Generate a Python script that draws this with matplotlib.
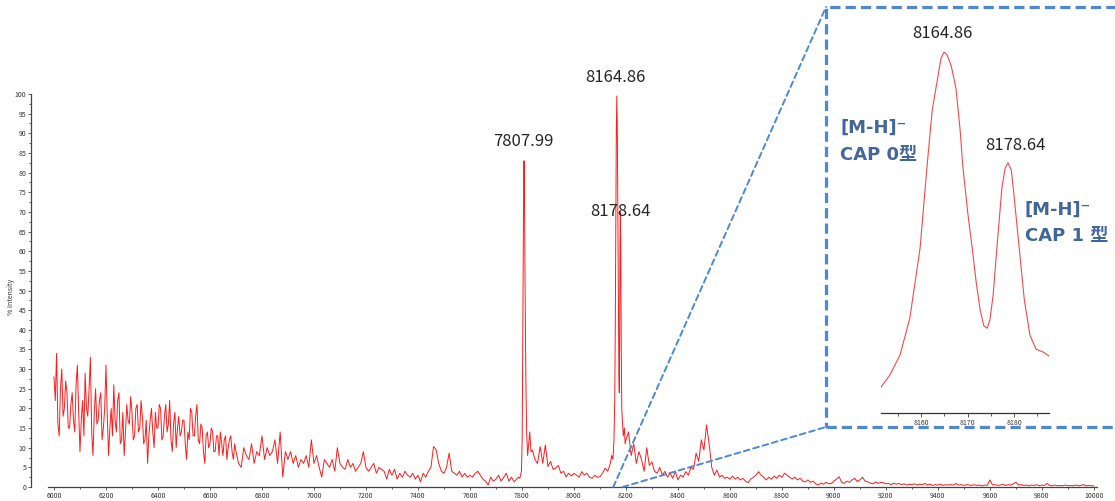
import numpy as np
import matplotlib.pyplot as plt
from matplotlib.patches import Rectangle, ConnectionPatch
from matplotlib.ticker import MultipleLocator

plt.rcParams['font.family'] = ['Noto Sans CJK SC', 'DejaVu Sans']

# m/z 6000-6695, 5 Da steps (% intensity)
int_a1 = [
    28, 22, 34, 16, 13, 25, 30, 18, 20, 27, 24, 15, 15, 21, 24, 17, 14, 26, 31, 19,
    9, 17, 22, 13, 29, 20, 18, 25, 33, 14, 8, 19, 25, 16, 17, 22, 24, 12, 15, 20,
    31, 18, 8, 15, 20, 13, 26, 17, 14, 22, 24, 11, 12, 19, 8, 14, 21, 17, 16, 23,
    19, 12, 13, 20, 21, 14, 15, 22, 18, 11, 12, 17, 6, 13, 17, 20, 14, 10, 19, 15,
    15, 21, 20, 12, 13, 18, 21, 14, 16, 22, 12, 9, 16, 19, 10, 15, 18, 13, 14, 17,
    17, 11, 7, 14, 12, 20, 19, 13, 13, 18, 21, 12, 11, 16, 15, 9, 6, 13, 14, 10,
    11, 15, 14, 9, 9, 13, 13, 8, 14, 11, 8, 12, 13, 7, 10, 12, 13, 9, 7, 11,
]

# m/z 6700-7780, 10 Da steps
int_a2 = [
    9, 6, 5, 10, 8, 7, 11, 6, 9, 8,
    13, 7, 10, 8, 9, 12, 6, 14, 2.5, 9,
    7, 9, 6, 8, 5, 7, 6, 8, 5, 12,
    6, 8, 5, 2.5, 7, 6, 5, 7, 4, 10,
    6, 5, 4.5, 7, 5, 6, 4, 5, 6, 9,
    5, 4, 5, 6, 3.5, 5, 4.5, 4, 2, 4.5,
    3, 4.5, 2, 3.5, 2.5, 4, 3, 2.5, 3.5, 2,
    3, 1.3, 3.5, 2.5, 4, 5, 10.3, 9.5, 6, 4,
    3.5, 5, 8.6, 4, 3.5, 3, 4, 2.5, 3.5, 2.5,
    3, 2.5, 3.5, 4, 3, 2, 1.5, 0.5, 2.5, 1.5,
    2, 3, 1.5, 2.5, 3.5, 1.5, 2.5, 1.3, 2,
]

# peak at 7807.99
mz_p1 = [7786, 7792, 7798, 7801, 7804, 7806, 7808, 7810, 7812, 7815, 7818, 7822, 7826, 7830, 7835]
int_p1 = [2.5, 2.2, 4, 12, 45, 70, 83, 72, 52, 28, 14, 8, 11, 14, 9]

# m/z 7840-8140, 10 Da steps
int_b = [
    9.4, 7, 6, 10.3, 6, 10.7, 5.2, 6.5, 4.5, 4.8,
    5.5, 3.5, 4, 2.6, 3.5, 2.8, 3.5, 3, 2.5, 3.9,
    3, 3.5, 2.5, 2.2, 3, 2.5, 2.6, 3.5, 4.8, 4, 6,
]

# doublet 8164.86 / 8178.64
mz_p2 = [8145, 8150, 8154, 8157, 8159, 8161, 8163, 8165, 8167, 8169, 8171, 8173,
         8174.5, 8176, 8177.5, 8178.6, 8180, 8182, 8184, 8187, 8190, 8194, 8197]
int_p2 = [8, 7, 12, 22, 40, 66, 90, 99.5, 90, 68, 45, 28,
          24, 40, 62, 70, 63, 36, 20, 16, 13, 15, 11]

# m/z 8200-10000, 10 Da steps
int_c = [
    12, 14, 8, 11, 6, 9, 7, 4, 10, 5.5,
    6.4, 4, 3.5, 5, 3, 4, 2.5, 3.5, 2.2, 4,
    1.8, 3, 2.5, 3.9, 3, 5, 4.5, 8.6, 6.5, 12,
    9.4, 15.8, 11, 5, 3, 4.3, 2.5, 3, 2.2, 2.5,
    2, 2.8, 2, 2.5, 1.8, 2.2, 1.5, 1.1, 2, 2.5,
    3, 3.9, 3, 2.5, 1.8, 2.5, 2, 2.8, 2.2, 3,
    2.5, 3.5, 3, 2.5, 2, 2.5, 1.8, 2.2, 1.5, 1.3,
    1.8, 1.2, 1.5, 0.8, 0.5, 1, 0.7, 1.2, 0.8, 0.9,
    1.5, 2, 2.6, 1.2, 0.9, 1.5, 1.2, 1.8, 2.2, 1.4,
    1.8, 2.5, 1.5, 1.3, 1, 0.8, 1.3, 0.9, 1.2, 1.1,
    0.8, 0.9, 0.6, 1, 0.7, 0.9, 0.6, 0.8, 0.5, 0.7,
    0.6, 0.8, 0.5, 0.7, 0.6, 0.9, 0.5, 0.7, 0.4, 0.6,
    0.5, 0.7, 0.4, 0.6, 0.5, 0.6, 0.5, 0.9, 0.5, 0.6,
    0.4, 0.6, 0.5, 0.4, 0.6, 0.4, 0.5, 0.3, 0.5, 0.4,
    1.8, 0.5, 0.6, 0.4, 0.5, 0.7, 0.4, 0.6, 0.5, 0.8,
    1.2, 0.5, 0.6, 0.4, 0.5, 0.3, 0.5, 0.4, 0.6, 0.3,
    0.5, 0.4, 0.9, 0.4, 0.3, 0.5, 0.3, 0.4, 0.3, 0.5,
    0.3, 0.4, 0.3, 0.5, 0.3, 0.4, 0.6, 0.3, 0.4, 0.3, 0.3,
]

# zoomed doublet (inset)
mz_zoom = [8151.4, 8153.3, 8155.5, 8157.6, 8159.8, 8161.3, 8162.4, 8163.4, 8164.3, 8164.95,
           8165.6, 8166.5, 8167.5, 8168.4, 8169.0, 8170.1, 8171.0, 8171.8, 8172.7, 8173.5,
           8174.2, 8174.8, 8175.5, 8176.3, 8177.4, 8178.1, 8178.7, 8179.4, 8179.8, 8181.1,
           8182.2, 8183.4, 8184.7, 8186.2, 8187.5]
int_zoom = [7.2, 10.5, 16.1, 26.3, 45.7, 68.4, 83.9, 91.4, 98.3, 100,
            99.2, 96.1, 90.0, 78.4, 68.1, 54.8, 45.7, 36.8, 28.5, 24.1,
            23.5, 25.8, 32.7, 45.7, 62.6, 67.9, 69.3, 67.3, 62.6, 45.7,
            31.3, 21.6, 17.7, 16.9, 15.8]

peak_labels = ['7807.99', '8164.86', '8178.64']

mz = np.concatenate([np.arange(6000, 6700, 5), np.arange(6700, 7790, 10), mz_p1,
                     np.arange(7840, 8150, 10), mz_p2, np.arange(8200, 10010, 10)])
inten = np.concatenate([int_a1, int_a2, int_p1, int_b, int_p2, int_c])

W, H = 1115, 501
fig = plt.figure(figsize=(W / 100, H / 100), dpi=100)


def fx(px):
    return px / W


def fy(py):
    return 1 - py / H


# main spectrum
ax = fig.add_axes([fx(48), fy(487), (1097 - 48) / W, (487 - 94) / H])
ax.plot(mz, inten, color='#ff1a1a', lw=0.7)
ax.set_xlim(5977, 10012)
ax.set_ylim(0, 100)
for s in ['top', 'right']:
    ax.spines[s].set_visible(False)
ax.spines['left'].set_position(('outward', 12))
for s in ['left', 'bottom']:
    ax.spines[s].set_color('#444444')
    ax.spines[s].set_linewidth(0.9)
ax.xaxis.set_major_locator(MultipleLocator(200))
ax.xaxis.set_minor_locator(MultipleLocator(100))
ax.yaxis.set_major_locator(MultipleLocator(5))
ax.yaxis.set_minor_locator(MultipleLocator(2.5))
ax.tick_params(which='both', labelsize=5, colors='#444444', labelcolor='#333333',
               width=0.6, pad=1)
ax.tick_params(which='major', length=2.5)
ax.tick_params(which='minor', length=1.5)
fig.text(fx(11), fy(297), '% Intensity', rotation=90, fontsize=5, color='#333333',
         ha='center', va='center')

fig.text(fx(523), fy(141), peak_labels[0], fontsize=12, color='#262626', ha='center', va='center')
fig.text(fx(615), fy(77), peak_labels[1], fontsize=12, color='#262626', ha='center', va='center')
fig.text(fx(620), fy(211), peak_labels[2], fontsize=12, color='#262626', ha='center', va='center')

# inset
axi = fig.add_axes([fx(881), fy(413), (1049 - 881) / W, (413 - 52) / H])
axi.plot(mz_zoom, int_zoom, color='#f24a4a', lw=0.8)
axi.set_xlim(mz_zoom[0], mz_zoom[-1])
axi.set_ylim(0, 100)
for s in ['top', 'right', 'left']:
    axi.spines[s].set_visible(False)
axi.spines['bottom'].set_color('#333333')
axi.spines['bottom'].set_linewidth(0.9)
axi.set_yticks([])
axi.xaxis.set_major_locator(MultipleLocator(10))
axi.xaxis.set_minor_locator(MultipleLocator(5))
axi.tick_params(which='both', labelsize=5, colors='#444444', labelcolor='#333333',
                width=0.6, pad=1.5)
axi.tick_params(which='major', length=3)
axi.tick_params(which='minor', length=2)
axi.patch.set_alpha(0)

fig.text(fx(942), fy(33), peak_labels[1], fontsize=12, color='#262626', ha='center', va='center')
fig.text(fx(1015), fy(145), peak_labels[2], fontsize=12, color='#262626', ha='center', va='center')

blue_txt = '#40669b'
lab_font = dict(fontsize=13, fontweight='bold', color=blue_txt, ha='left', va='center',
                family=['DejaVu Sans', 'Noto Sans CJK SC'])
fig.text(fx(840), fy(128), '[M-H]⁻', **lab_font)
fig.text(fx(840), fy(155), 'CAP 0型', **lab_font)
fig.text(fx(1025), fy(210), '[M-H]⁻', **lab_font)
fig.text(fx(1025), fy(236), 'CAP 1 型', **lab_font)

# dashed zoom box and connectors
blue = '#4c88d6'
box = Rectangle((fx(826), fy(427)), (1125 - 826) / W, (427 - 7) / H, transform=fig.transFigure,
                fill=False, edgecolor=blue, lw=2.3, ls=(0, (3.2, 1.6)))
fig.add_artist(box)
for x0, yb in [(mz_zoom[0], 7), (mz_zoom[-1], 427)]:
    con = ConnectionPatch(xyA=(x0, 0), coordsA=ax.transData,
                          xyB=(fx(826), fy(yb)), coordsB=fig.transFigure,
                          color=blue, lw=1.4, ls=(0, (3, 2)))
    fig.add_artist(con)

fig.savefig('out.png', dpi=100)
